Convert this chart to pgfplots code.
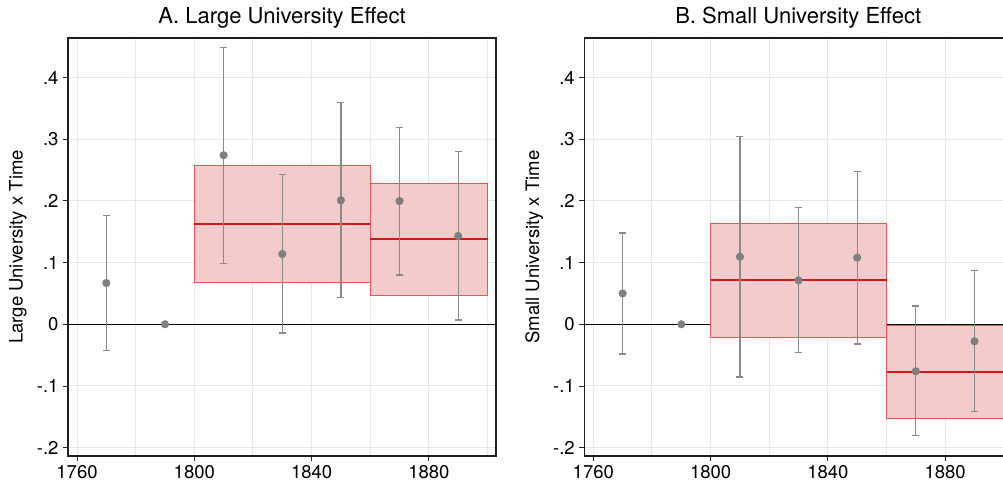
\documentclass[border=0pt]{standalone}
\usepackage{pgfplots}
\pgfplotsset{compat=1.18}
\usepackage{pgfplotstable}
\usepackage{fontspec}
\setmainfont{TeX Gyre Heros}
\definecolor{boxfill}{HTML}{F4CBCB}
\definecolor{boxedge}{HTML}{E5575A}
\definecolor{meanline}{HTML}{D01818}
\definecolor{ptgray}{HTML}{7F7F7F}
\definecolor{cigray}{HTML}{8A8A8A}
\definecolor{gridgray}{HTML}{E8E8E8}

\pgfplotstableread{
x y lo hi
1770 0.0669 -0.042 0.176
1810 0.274 0.099 0.449
1830 0.114 -0.014 0.243
1850 0.201 0.0437 0.3595
1870 0.1997 0.0798 0.3195
1890 0.143 0.007 0.2795
}\largeA
\pgfplotstableread{
x y lo hi
1770 0.050 -0.048 0.148
1810 0.1095 -0.0853 0.3045
1830 0.0712 -0.0454 0.189
1850 0.1079 -0.032 0.248
1870 -0.0762 -0.180 0.0297
1890 -0.0276 -0.1415 0.0868
}\smallB

\pgfplotsset{
  panel/.style={
    scale only axis, width=428pt, height=418pt,
    xmin=1756.93, xmax=1902.9, ymin=-0.2135, ymax=0.464,
    xtick={1760,1800,1840,1880},
    minor xtick={1780,1820,1860,1900},
    ytick={-0.2,-0.1,0,0.1,0.2,0.3,0.4},
    yticklabels={-.2,-.1,0,.1,.2,.3,.4},
    xticklabel style={/pgf/number format/1000 sep={}},
    /pgf/number format/assume math mode=true,
    tick label style={font=\fontsize{18.5}{20}\selectfont},
    label style={font=\fontsize{18.5}{20}\selectfont},
    title style={font=\fontsize{22}{24}\selectfont, at={(axis description cs:0.5,1)}, anchor=center, yshift=14pt},
    grid=both,
    major grid style={gridgray, line width=1pt},
    minor grid style={gridgray, line width=1pt},
    minor tick length=0pt,
    major tick length=5pt,
    tick align=outside,
    xtick pos=bottom, ytick pos=left,
    tick style={black!85, line width=0.8pt},
    axis line style={black!88, line width=1.2pt},
    ylabel style={at={(axis description cs:-0.117,0.5)}, anchor=center},
    xticklabel style={yshift=-1pt},
    yticklabel style={xshift=-1pt},
  },
  ci/.style={only marks, cigray, line width=1.3pt, mark=*, mark size=3.8pt,
    mark options={ptgray, fill=ptgray, solid, line width=0.5pt},
    error bars/y dir=both, error bars/y explicit,
    error bars/error bar style={cigray, line width=1.3pt},
    error bars/error mark options={cigray, line width=1.3pt, mark size=3.5pt, rotate=90}},
}

\begin{document}
\begin{tikzpicture}
\begin{axis}[panel, at={(68pt,27pt)}, anchor=south west,
  title={A. Large University Effect}, ylabel={Large University x Time}]
\addplot[black, line width=0.9pt] coordinates {(1750,0) (1910,0)};
\addplot[fill=boxfill, draw=boxedge, line width=0.8pt] coordinates {(1800,0.068) (1860,0.068) (1860,0.258) (1800,0.258)} -- cycle;
\addplot[fill=boxfill, draw=boxedge, line width=0.8pt] coordinates {(1860,0.0475) (1900,0.0475) (1900,0.2283) (1860,0.2283)} -- cycle;
\addplot[meanline, line width=1.8pt] coordinates {(1800,0.163) (1860,0.163)};
\addplot[meanline, line width=1.8pt] coordinates {(1860,0.138) (1900,0.138)};
\addplot[ci] table[x=x, y=y, y error plus expr=\thisrow{hi}-\thisrow{y}, y error minus expr=\thisrow{y}-\thisrow{lo}] {\largeA};
\addplot[only marks, mark=*, mark size=3.8pt, ptgray, fill=ptgray] coordinates {(1790,0)};
\end{axis}
\begin{axis}[panel, at={(584.3pt,27pt)}, anchor=south west,
  title={B. Small University Effect}, ylabel={Small University x Time}]
\addplot[black, line width=0.9pt] coordinates {(1750,0) (1910,0)};
\addplot[fill=boxfill, draw=boxedge, line width=0.8pt] coordinates {(1800,-0.021) (1860,-0.021) (1860,0.163) (1800,0.163)} -- cycle;
\addplot[fill=boxfill, draw=boxedge, line width=0.8pt] coordinates {(1860,-0.152) (1900,-0.152) (1900,-0.002) (1860,-0.002)} -- cycle;
\addplot[meanline, line width=1.8pt] coordinates {(1800,0.0712) (1860,0.0712)};
\addplot[meanline, line width=1.8pt] coordinates {(1860,-0.0767) (1900,-0.0767)};
\addplot[ci] table[x=x, y=y, y error plus expr=\thisrow{hi}-\thisrow{y}, y error minus expr=\thisrow{y}-\thisrow{lo}] {\smallB};
\addplot[only marks, mark=*, mark size=3.8pt, ptgray, fill=ptgray] coordinates {(1790,0)};
\end{axis}
\pgfresetboundingbox
\useasboundingbox (0,0) rectangle (1003pt,483pt);
\end{tikzpicture}
\end{document}
